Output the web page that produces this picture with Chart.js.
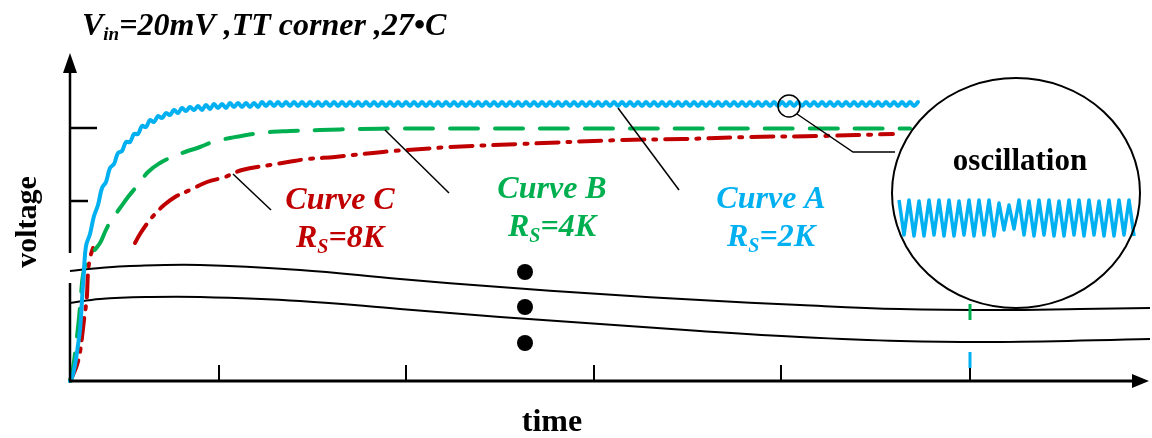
<!DOCTYPE html>
<html><head><meta charset="utf-8">
<script src="https://cdn.jsdelivr.net/npm/chart.js@4/dist/chart.umd.min.js"></script>
<style>html,body{margin:0;padding:0;background:#fff;overflow:hidden}</style>
</head><body>
<canvas id="c" width="1152" height="438"></canvas>
<script>
// ---- DATA (time / voltage in arbitrary units) ----
const blueTime = [0,2,5,8,10,12,14,
16,20,24,28,32,36,40,44,48,52,
56,60,64,68,72,76,80,84,88,92,
96,100,104,108,112,116,120,124,128,132,
136,140,144,148,152,156,160,164,168,172,
176,180,184,188,192,196,200,204,208,212,
216,220,224,228,232,236,240,244,248,252,
256,260,264,268,272,276,280,284,288,292,
296,300,304,308,312,316,320,324,328,332,
336,340,344,348,352,356,360,364,368,372,
376,380,384,388,392,396,400,404,408,412,
416,420,424,428,432,436,440,444,448,452,
456,460,464,468,472,476,480,484,488,492,
496,500,504,508,512,516,520,524,528,532,
536,540,544,548,552,556,560,564,568,572,
576,580,584,588,592,596,600,604,608,612,
616,620,624,628,632,636,640,644,648,652,
656,660,664,668,672,676,680,684,688,692,
696,700,704,708,712,716,720,724,728,732,
736,740,744,748,752,756,760,764,768,772,
776,780,784,788,792,796,800,804,808,812,
816,820,824,828,832,836,840,844,848];
const blueVolt = [0,3,16,36,51,81,111,
135,147,165,176,193,199,213,217,228,230,
239,239,247,247,255,254,261,259,265,263,
268,266,271,268,273,270,274,271,275,271,
276,272,277,273,277,273,278,274,278,274,
278,274,278,274,
279,275,279,275,279,275,279,275,279,275,
279,275,279,275,279,275,279,275,279,275,
279,275,279,275,279,275,279,275,279,275,
279,275,279,275,279,275,279,275,279,275,
279,275,279,275,279,275,279,275,279,275,
279,275,279,275,279,275,279,275,279,275,
279,275,279,275,279,275,279,275,279,275,
279,275,279,275,279,275,279,275,279,275,
279,275,279,275,279,275,279,275,279,275,
279,275,279,275,279,275,279,275,279,275,
279,275,279,275,279,275,279,275,279,275,
279,275,279,275,279,275,279,275,279,275,
279,275,279,275,279,275,279,275,279,275,
279,275,279,275,279,275,279,275,279,275,
279,275,279,275,279,275,279,275,279,275,
279,275,279,275,279,275,279,275,279,275,
279,275,279,275,279];

const greenTime = [0,3,6,9,11,13,17,23,30,35,40,45,50,58,67,78,90,102,115,130,143,160,190,220,250,290,330,840];
const greenVolt = [0,13,36,63,86,106,121,129,138,149,159,166,173,184,195,209,218,224,229,234,239,243,248,250,251,252,252.5,252.5];

const redTime = [0,3,7,10,12,14,16,17,18,20,23,40,65,70,79,85,93,105,120,137,155,172,200,218,238,265,283,303,323,352,380,450,553,613,680,750,823];
const redVolt = [0,6,16,29,44,61,76,86,108,123,133,null,138,147,160,167,175,184,191,199,204,211,216,219,222,224,226,228,230,232,234,237,241,242,244,245,247];

const upperTime = [0,30,60,130,230,330,430,530,630,730,830,930,1010,1080];
const upperVolt = [110,113,115,116,111,102,94,87,81,76,72,71,72,73];
const lowerTime = [0,30,80,130,230,330,430,530,630,730,830,930,1080];
const lowerVolt = [78,82,84,84,80,72,64,57,50,44,40,39,42];

const dotTime = [455,455,455];
const dotVolt = [109,74,38];

const insetTime = [829,834,839,844,849,854,859,864,869,874,879,884,889,894,899,904,909,914,919,924,929,934,939,944,949,954,959,964,969,974,979,984,989,994,999,1004,1009,1014,1019,1024,1029,1034,1039,1044,1049,1054,1059,1064];
const insetVolt = [181,146,181,145,180,145,181,146,181,145,181,145,180,146,181,145,181,146,181,145,178,151,176,152,181,146,180,145,181,146,181,145,180,145,181,146,181,145,181,146,180,145,181,145,181,146,181,145];

const endMarkTimeG = [900,900]; const endMarkVoltG = [61,77];
const endMarkTimeB = [900,900]; const endMarkVoltB = [13,29];

const xTicks = [149,336,524,711,900];
const yTicks = [253,180];

const BLUE='#00B0F0', GREEN='#00B050', RED='#C00000';
const pts=(xs,ys)=>xs.map((x,i)=>({x:x,y:ys[i]}));

const SERIF='"Liberation Serif","Times New Roman",serif';

const deco = {
  id:'deco',
  afterDatasetsDraw(chart){
    const ctx=chart.ctx, X=chart.scales.x, Y=chart.scales.y;
    const px=v=>X.getPixelForValue(v), py=v=>Y.getPixelForValue(v);
    ctx.save();
    ctx.strokeStyle='#000'; ctx.fillStyle='#000'; ctx.lineCap='butt';
    const x0=px(0), y0=py(0);
    // y axis with break
    ctx.lineWidth=2.5;
    ctx.beginPath();
    ctx.moveTo(x0,y0); ctx.lineTo(x0,py(98));
    ctx.moveTo(x0,py(128)); ctx.lineTo(x0,py(312));
    ctx.stroke();
    ctx.beginPath(); ctx.moveTo(x0,py(328)); ctx.lineTo(x0-7,py(308)); ctx.lineTo(x0+7,py(308)); ctx.closePath(); ctx.fill();
    // x axis
    ctx.lineWidth=3;
    ctx.beginPath(); ctx.moveTo(x0-1,y0); ctx.lineTo(px(1066),y0); ctx.stroke();
    ctx.beginPath(); ctx.moveTo(px(1079),y0); ctx.lineTo(px(1062),y0-7); ctx.lineTo(px(1062),y0+7); ctx.closePath(); ctx.fill();
    // ticks
    ctx.lineWidth=2;
    xTicks.forEach((t,i)=>{ctx.beginPath();ctx.moveTo(px(t),y0);ctx.lineTo(px(t),py(i===4?13:16));ctx.stroke();});
    ctx.lineWidth=2.5;
    [[yTicks[0],27],[yTicks[1],18]].forEach(([v,l])=>{ctx.beginPath();ctx.moveTo(x0,py(v));ctx.lineTo(x0+l,py(v));ctx.stroke();});
    // leaders
    ctx.lineWidth=1.5;
    [[163,207,201,171],[315,251,379,188],[548,273,609,191]].forEach(a=>{ctx.beginPath();ctx.moveTo(px(a[0]),py(a[1]));ctx.lineTo(px(a[2]),py(a[3]));ctx.stroke();});
    // magnifier
    ctx.beginPath(); ctx.arc(px(719),py(275),11,0,Math.PI*2); ctx.stroke();
    ctx.beginPath(); ctx.moveTo(px(727),py(267)); ctx.lineTo(px(783),py(229)); ctx.lineTo(px(825),py(229)); ctx.stroke();
    ctx.lineWidth=2;
    ctx.beginPath(); ctx.ellipse(px(946),py(188),124,115,0,0,Math.PI*2); ctx.stroke();
    // texts
    ctx.textBaseline='alphabetic';
    ctx.textAlign='left';
    ctx.font='italic bold 32px '+SERIF;
    let x=82; ctx.fillText('V',x,35); x+=ctx.measureText('V').width;
    ctx.font='italic bold 19px '+SERIF; ctx.fillText('in',x,40); x+=ctx.measureText('in').width;
    ctx.font='italic bold 32px '+SERIF; ctx.fillText('=20mV ,TT corner ,27\u2022C',x,35);
    // axis labels
    ctx.font='bold 32px '+SERIF; ctx.textAlign='center';
    ctx.fillText('time',552,431);
    ctx.font='bold 30px '+SERIF;
    ctx.save(); ctx.translate(36,222); ctx.rotate(-Math.PI/2); ctx.fillText('voltage',0,0); ctx.restore();
    ctx.font='bold 31px '+SERIF; ctx.fillText('oscillation',1020,170);
    // curve labels
    const lab=(cx,by,color,name,val)=>{
      ctx.fillStyle=color; ctx.textAlign='center';
      ctx.font='italic bold 32px '+SERIF; ctx.fillText(name,cx,by);
      ctx.textAlign='left';
      ctx.font='italic bold 32px '+SERIF; const wR=ctx.measureText('R').width, wV=ctx.measureText(val).width;
      ctx.font='italic bold 20px '+SERIF; const wS=ctx.measureText('S').width;
      let sx=cx-(wR+wS+wV)/2;
      ctx.font='italic bold 32px '+SERIF; ctx.fillText('R',sx,by+38);
      ctx.font='italic bold 20px '+SERIF; ctx.fillText('S',sx+wR,by+44);
      ctx.font='italic bold 32px '+SERIF; ctx.fillText(val,sx+wR+wS,by+38);
    };
    lab(340,209,RED,'Curve C','=8K');
    lab(552,198,GREEN,'Curve B','=4K');
    lab(771,208,BLUE,'Curve A','=2K');
    ctx.restore();
  }
};

new Chart(document.getElementById('c'),{
  type:'line',
  data:{datasets:[
    {data:pts(blueTime,blueVolt),borderColor:BLUE,borderWidth:4,tension:0.4,pointRadius:0,borderJoinStyle:'round',borderCapStyle:'round'},
    {data:pts(insetTime,insetVolt),borderColor:BLUE,borderWidth:3.5,tension:0,pointRadius:0,borderJoinStyle:'round'},
    {data:pts(greenTime,greenVolt),borderColor:GREEN,borderWidth:4,tension:0.4,pointRadius:0,borderDash:[28,17],borderCapStyle:'round'},
    {data:pts(redTime,redVolt),borderColor:RED,borderWidth:4,tension:0.4,pointRadius:0,borderDash:[22,9,3,9],spanGaps:false,borderCapStyle:'round'},
    {data:pts(endMarkTimeG,endMarkVoltG),borderColor:GREEN,borderWidth:3,pointRadius:0},
    {data:pts(endMarkTimeB,endMarkVoltB),borderColor:BLUE,borderWidth:3,pointRadius:0},
    {data:pts(dotTime,dotVolt),showLine:false,pointRadius:8,pointBackgroundColor:'#000',pointBorderWidth:0},
    {data:pts(upperTime,upperVolt),borderColor:'#000',borderWidth:2,tension:0.4,pointRadius:0},
    {data:pts(lowerTime,lowerVolt),borderColor:'#000',borderWidth:2,tension:0.4,pointRadius:0}
  ]},
  options:{
    responsive:false,animation:false,
    clip:false,
    layout:{autoPadding:false,padding:{left:70,right:2,top:50,bottom:57}},
    scales:{
      x:{type:'linear',min:0,max:1080,display:false},
      y:{type:'linear',min:0,max:331,display:false}
    },
    plugins:{legend:{display:false},tooltip:{enabled:false},title:{display:false}}
  },
  plugins:[deco]
});
</script>
</body></html>
